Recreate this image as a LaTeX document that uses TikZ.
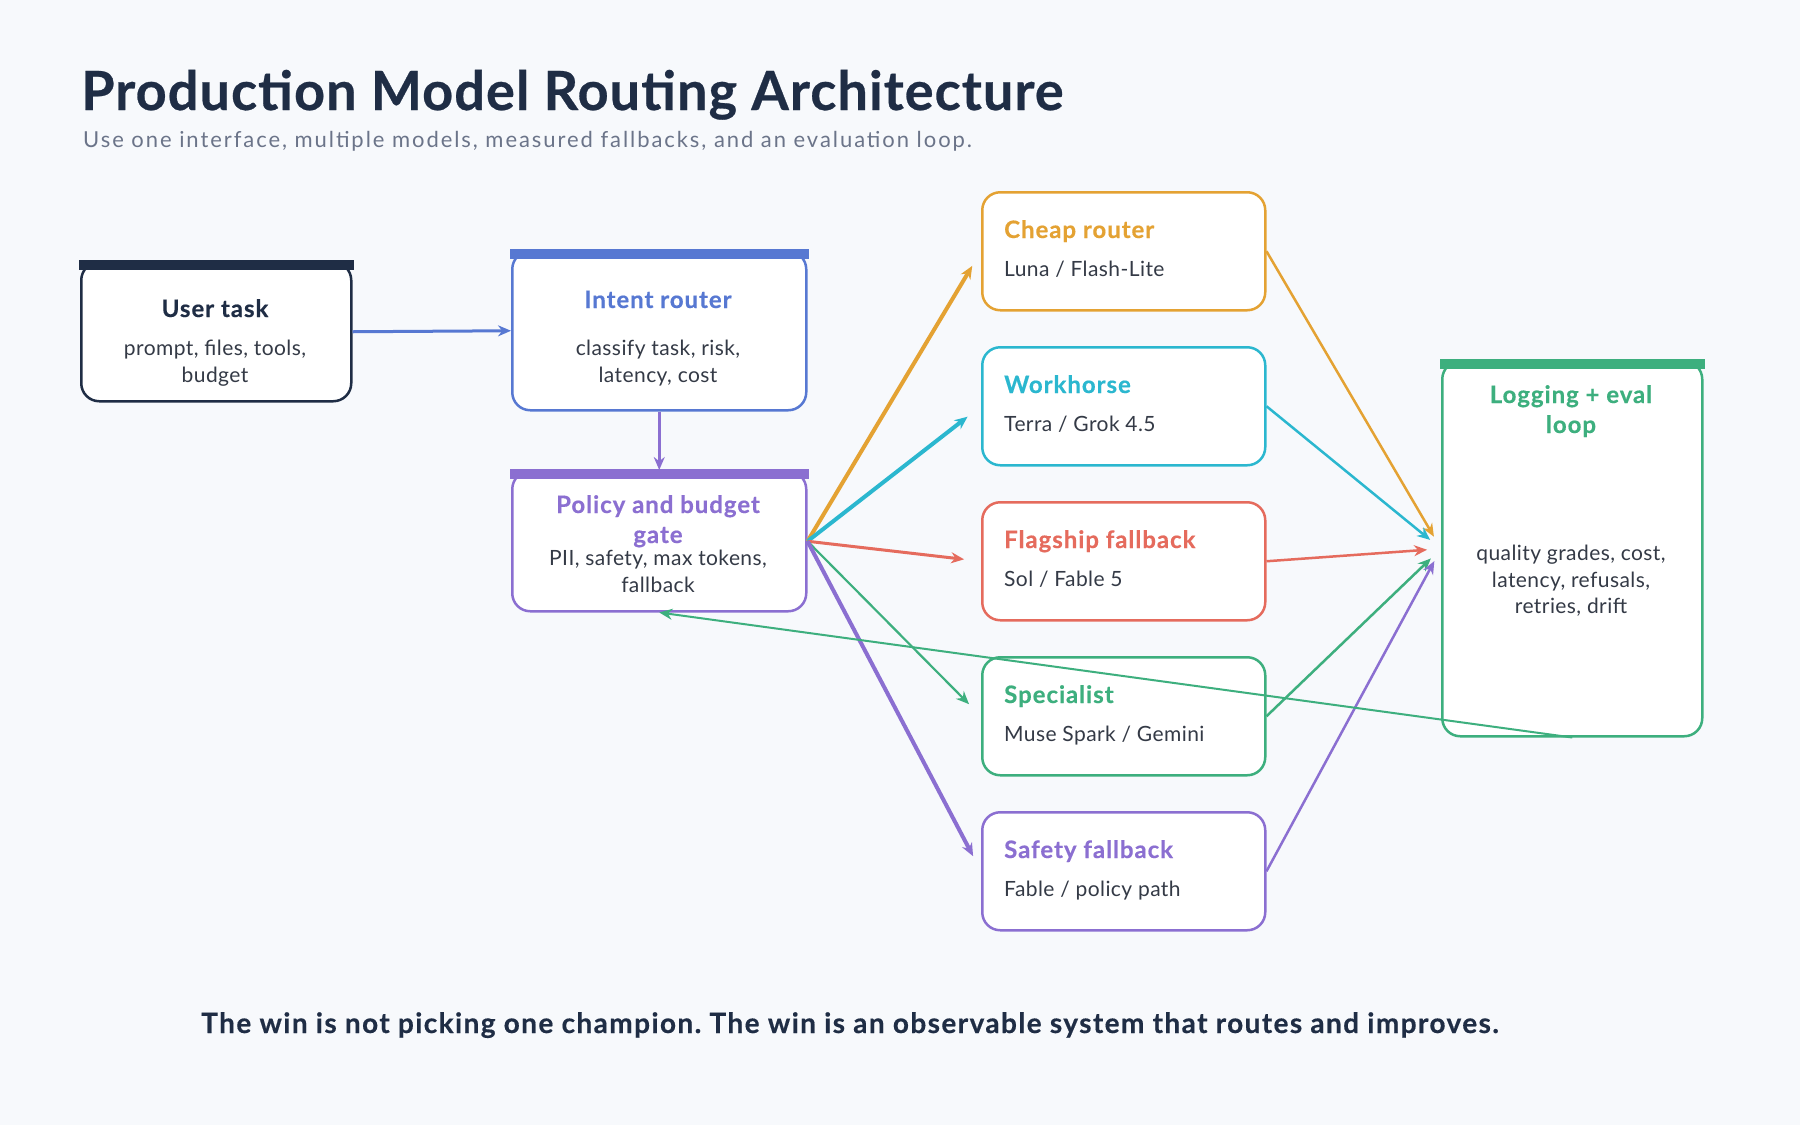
\documentclass[tikz,border=0pt]{standalone}
\usepackage{fontspec}
\setmainfont{Lato}
\frenchspacing
\usetikzlibrary{arrows.meta,calc}
\definecolor{bg}{HTML}{F7F9FC}
\definecolor{navy}{HTML}{1F2D45}
\definecolor{cblue}{HTML}{5778D2}
\definecolor{cpurple}{HTML}{8B6FD1}
\definecolor{corange}{HTML}{E4A233}
\definecolor{ccyan}{HTML}{2BB7CF}
\definecolor{cred}{HTML}{E56B5D}
\definecolor{cgreen}{HTML}{3DAF7E}
\definecolor{bodytxt}{HTML}{343A46}
\definecolor{subtxt}{HTML}{6B7489}
\begin{document}
\begin{tikzpicture}[x=1pt,y=-1pt,
  box/.style={draw, line width=2.5pt, rounded corners=18pt, fill=white, inner sep=0pt, anchor=north west},
  modelbox/.style={box, minimum width=283pt, minimum height=118pt},
  ttl/.style={font=\fontsize{24}{28}\selectfont\bfseries\addfontfeature{LetterSpace=4,FakeBold=0.4}, anchor=base, inner sep=0pt},
  mttl/.style={ttl, anchor=base west},
  bdy/.style={font=\fontsize{21}{26}\selectfont\addfontfeature{LetterSpace=2}, text=bodytxt, anchor=base, inner sep=0pt},
  mbdy/.style={bdy, anchor=base west},
  tip/.style={-{Stealth[length=13pt,width=11pt]}},
]
\fill[bg] (0,0) rectangle (1800,1125);
\useasboundingbox (0,0) rectangle (1800,1125);

% title
\node[anchor=base west, inner sep=0pt, font=\fontsize{54}{60}\selectfont\bfseries\addfontfeature{LetterSpace=2,FakeBold=0.5}, text=navy] (title) at (81,110) {Production Model Routing Architecture};
\node[anchor=base west, inner sep=0pt, font=\fontsize{22}{26}\selectfont\addfontfeature{LetterSpace=8.8}, text=subtxt] (subtitle) at (83,147) {Use one interface, multiple models, measured fallbacks, and an evaluation loop.};

% boxes
\node[box, draw=navy, minimum width=270pt, minimum height=139pt] (ut) at (80,261) {};
\node[box, draw=cblue, minimum width=294pt, minimum height=159pt] (ir) at (511,250) {};
\node[box, draw=cpurple, minimum width=294pt, minimum height=140pt] (pg) at (511,470) {};
\node[modelbox, draw=corange] (m1) at (981,191) {};
\node[modelbox, draw=ccyan] (m2) at (981,346) {};
\node[modelbox, draw=cred] (m3) at (981,501) {};
\node[modelbox, draw=cgreen] (m4) at (981,656) {};
\node[modelbox, draw=cpurple] (m5) at (981,811) {};
\node[box, draw=cgreen, minimum width=260pt, minimum height=375pt] (lg) at (1441,360) {};

% top bars
\fill[navy] ($(ut.north west)+(-1.25,-1)$) rectangle ($(ut.north east)+(1.25,9)$);
\fill[cblue] ($(ir.north west)+(-1.25,-1)$) rectangle ($(ir.north east)+(1.25,9)$);
\fill[cpurple] ($(pg.north west)+(-1.25,-1)$) rectangle ($(pg.north east)+(1.25,9)$);
\fill[cgreen] ($(lg.north west)+(-1.25,-1)$) rectangle ($(lg.north east)+(1.25,9)$);

% texts
\node[ttl, text=navy] (ut-t) at (215,317) {User task};
\node[bdy] (ut-b1) at (215,355) {prompt, files, tools,};
\node[bdy] (ut-b2) at (215,382) {budget};

\node[ttl, text=cblue] (ir-t) at (658,308) {Intent router};
\node[bdy] (ir-b1) at (658,355) {classify task, risk,};
\node[bdy] (ir-b2) at (658,382) {latency, cost};

\node[ttl, text=cpurple] (pg-t1) at (658,513) {Policy and budget};
\node[ttl, text=cpurple] (pg-t2) at (658,543) {gate};
\node[bdy] (pg-b1) at (658,565) {PII, safety, max tokens,};
\node[bdy] (pg-b2) at (658,592) {fallback};

\node[mttl, text=corange] (m1-t) at (1004,238) {Cheap router};
\node[mbdy] (m1-b) at (1004,276) {Luna / Flash-Lite};
\node[mttl, text=ccyan] (m2-t) at (1004,393) {Workhorse};
\node[mbdy] (m2-b) at (1004,431) {Terra / Grok 4.5};
\node[mttl, text=cred] (m3-t) at (1004,548) {Flagship fallback};
\node[mbdy] (m3-b) at (1004,586) {Sol / Fable 5};
\node[mttl, text=cgreen] (m4-t) at (1004,703) {Specialist};
\node[mbdy] (m4-b) at (1004,741) {Muse Spark / Gemini};
\node[mttl, text=cpurple] (m5-t) at (1004,858) {Safety fallback};
\node[mbdy] (m5-b) at (1004,896) {Fable / policy path};

\node[ttl, text=cgreen] (lg-t1) at (1571,403) {Logging + eval};
\node[ttl, text=cgreen] (lg-t2) at (1571,433) {loop};
\node[bdy] (lg-b1) at (1571,560) {quality grades, cost,};
\node[bdy] (lg-b2) at (1571,587) {latency, refusals,};
\node[bdy] (lg-b3) at (1571,613) {retries, drift};

% footer
\node[anchor=base west, inner sep=0pt, font=\fontsize{28}{32}\selectfont\bfseries\addfontfeature{LetterSpace=5,FakeBold=0.4}, text=navy] (footer) at (201,1033) {The win is not picking one champion. The win is an observable system that routes and improves.};

% connectors
\draw[tip, cblue, line width=3pt] (ut.east) -- (ir.west);
\draw[tip, cpurple, line width=3pt] (ir.south) -- (pg.north);

\draw[tip, corange, line width=4pt, shorten >=17pt] (pg.east) -- (m1.west);
\draw[tip, ccyan, line width=4pt, shorten >=17pt] (pg.east) -- (m2.west);
\draw[tip, cred, line width=3pt, shorten >=17pt] (pg.east) -- (m3.west);
\draw[tip, cgreen, line width=2.2pt, shorten >=17pt] (pg.east) -- (m4.west);
\draw[tip, cpurple, line width=4pt, shorten >=17pt] (pg.east) -- (m5.west);

\draw[tip, corange, line width=2.5pt, shorten >=14pt] (m1.east) -- (lg.west);
\draw[tip, ccyan, line width=2.5pt, shorten >=14pt] (m2.east) -- (lg.west);
\draw[tip, cred, line width=2.5pt, shorten >=14pt] (m3.east) -- (lg.west);
\draw[tip, cgreen, line width=2.5pt, shorten >=14pt] (m4.east) -- (lg.west);
\draw[tip, cpurple, line width=2.5pt, shorten >=14pt] (m5.east) -- (lg.west);

\draw[tip, cgreen, line width=2pt] (lg.south) -- (pg.south);
\end{tikzpicture}
\end{document}
